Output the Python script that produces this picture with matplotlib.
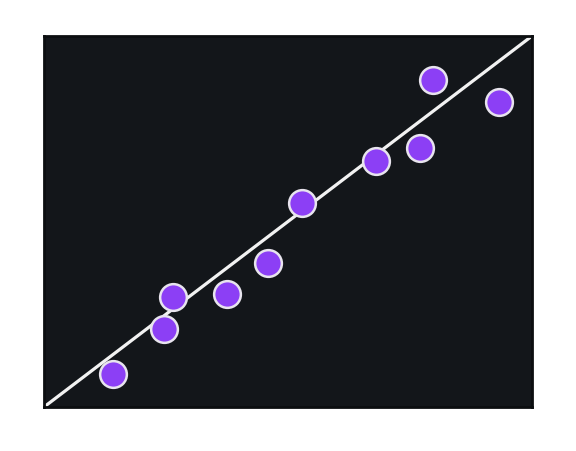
import matplotlib
matplotlib.use("Agg")
import matplotlib.pyplot as plt

x_vals = [1.41, 2.45, 2.64, 3.75, 4.58, 5.29, 6.80, 7.71, 7.97, 9.33]
y_vals = [0.89, 2.10, 2.96, 3.05, 3.87, 5.49, 6.64, 6.97, 8.82, 8.21]
line_x = [0, 10]
line_y = [0, 10]

plt.rcParams['font.family'] = ['DejaVu Sans']
fig = plt.figure(figsize=(5.76, 4.52), dpi=100)
ax = fig.add_axes([44/576, 1 - 408/452, 488/576, 371/452])
ax.set_facecolor('#13161a')
for s in ax.spines.values():
    s.set_color('#0c0e10')
    s.set_linewidth(2.0)
ax.plot(line_x, line_y, color='#f2f2f2', lw=2.3, zorder=2, solid_capstyle='round')
ax.scatter(x_vals, y_vals, s=370, color='#8c3ff5', edgecolors='#e8e4ee',
           linewidths=1.8, zorder=3)
ax.set_xlim(0, 10)
ax.set_ylim(0, 10)
ax.set_xticks([])
ax.set_yticks([])
fig.savefig('out.png', dpi=100, facecolor='white')
